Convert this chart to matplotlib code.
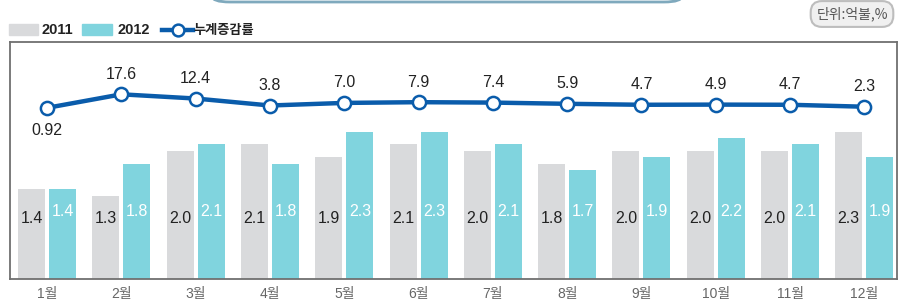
import matplotlib
matplotlib.use("Agg")
import matplotlib.pyplot as plt
from matplotlib.patches import Rectangle, FancyBboxPatch
from matplotlib.lines import Line2D
import numpy as np

plt.rcParams['font.family'] = ['Liberation Sans', 'Noto Sans CJK KR', 'DejaVu Sans']

# data
months = ['1월', '2월', '3월', '4월', '5월', '6월', '7월', '8월', '9월', '10월', '11월', '12월']
val_2011 = [1.4, 1.3, 2.0, 2.1, 1.9, 2.1, 2.0, 1.8, 2.0, 2.0, 2.0, 2.3]
val_2012 = [1.4, 1.8, 2.1, 1.8, 2.3, 2.3, 2.1, 1.7, 1.9, 2.2, 2.1, 1.9]
cum_rate = [0.92, 17.6, 12.4, 3.8, 7.0, 7.9, 7.4, 5.9, 4.7, 4.9, 4.7, 2.3]
legend_labels = ['2011', '2012', '누계증감률']
unit_text = '단위:억불,%'

GRAY = '#d9dadc'
TEAL = '#80d4de'
BLUE = '#0a5cab'
W, H = 901, 305

fig = plt.figure(figsize=(W / 100, H / 100), dpi=100)
fig.patch.set_facecolor('white')

def fx(x):
    return x / W

def fy(y):
    return 1 - y / H

ax = fig.add_axes([fx(10), fy(279), fx(897) - fx(10), fy(42) - fy(279)])
x = np.arange(len(months))
bw = 0.363
off = 0.209
ax.bar(x - off, val_2011, bw, color=GRAY, zorder=2)
ax.bar(x + off, val_2012, bw, color=TEAL, zorder=2)
ax.set_xlim(-0.5, 11.44)
ax.set_ylim(0, 3.7)

for i in range(len(months)):
    ax.text(x[i] - off, 0.95, f'{val_2011[i]:.1f}', ha='center', va='center',
            fontsize=11.5, color='#222222', zorder=3)
    ax.text(x[i] + off, 1.06, f'{val_2012[i]:.1f}', ha='center', va='center',
            fontsize=11.5, color='white', zorder=3)

ax.set_xticks(x)
ax.set_xticklabels(months, fontsize=10, color='#666666')
ax.tick_params(axis='x', length=0, pad=6)
ax.set_yticks([])
for s in ax.spines.values():
    s.set_color('#707070')
    s.set_linewidth(1.3)

# cumulative rate line on its own scale
ax2 = ax.twinx()
ax2.set_ylim(-210.4, 82.2)
ax2.set_yticks([])
for s in ax2.spines.values():
    s.set_visible(False)
ax2.plot(x, cum_rate, color=BLUE, lw=3.2, marker='o', markersize=9.5,
         markerfacecolor='white', markeredgecolor=BLUE, markeredgewidth=1.8, zorder=4)
for i, v in enumerate(cum_rate):
    txt = f'{v:.2f}' if v < 1 else f'{v:.1f}'
    dy = -23 if i == 0 else 20
    ax2.annotate(txt, (x[i], v), xytext=(0, dy), textcoords='offset pixels',
                 ha='center', va='center', fontsize=11.5, color='#222222')

# legend
fig.add_artist(Rectangle((fx(9), fy(35)), fx(29), fy(24) - fy(35), color=GRAY,
                         transform=fig.transFigure))
fig.text(fx(41), fy(30), legend_labels[0], fontsize=10.5, fontweight='bold',
         color='#222222', va='center')
fig.add_artist(Rectangle((fx(82), fy(35)), fx(30), fy(24) - fy(35), color=TEAL,
                         transform=fig.transFigure))
fig.text(fx(117), fy(30), legend_labels[1], fontsize=10.5, fontweight='bold',
         color='#222222', va='center')
fig.add_artist(Line2D([fx(162), fx(193)], [fy(30), fy(30)], color=BLUE, lw=3.2,
                      transform=fig.transFigure))
fig.add_artist(Line2D([fx(178)], [fy(30)], marker='o', markersize=8.5,
                      markerfacecolor='white', markeredgecolor=BLUE,
                      markeredgewidth=1.8, transform=fig.transFigure))
fig.text(fx(193), fy(30), legend_labels[2], fontsize=9.5, fontweight='bold',
         color='#222222', va='center', family='Noto Sans CJK KR')

# title box cut off at the top
fig.add_artist(FancyBboxPatch((fx(212), fy(2)), fx(470), fy(-40) - fy(2),
                              boxstyle='round,pad=0,rounding_size=0.02',
                              facecolor='white', edgecolor='#7fa9bd', lw=2,
                              transform=fig.transFigure))

# unit pill
fig.text(fx(852), fy(14), unit_text, fontsize=10, color='#555555',
         ha='center', va='center', family='Noto Sans CJK KR',
         bbox=dict(boxstyle='round,pad=0.4,rounding_size=0.8',
                   facecolor='#f0f0f0', edgecolor='#bdbdbd', lw=1.5))

fig.savefig('out.png', dpi=100)
